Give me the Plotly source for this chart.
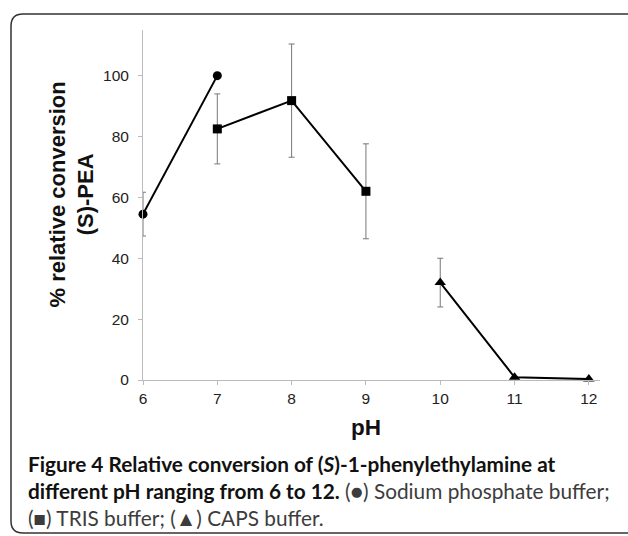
import plotly.graph_objects as go

# ---- data ----
ph_phosphate = [6, 7]
conv_phosphate = [54.5, 100.0]
err_phosphate = [7.2, 0.0]

ph_tris = [7, 8, 9]
conv_tris = [82.5, 91.8, 62.0]
err_tris = [11.5, 18.6, 15.6]

ph_caps = [10, 11, 12]
conv_caps = [32.0, 0.9, 0.3]
err_caps = [8.0, 0.0, 0.0]

x_ticks = [6, 7, 8, 9, 10, 11, 12]
y_ticks = [0, 20, 40, 60, 80, 100]

W, H = 628, 536
L, R, T, B = 143, 28, 30, 156
PW, PH = W - L - R, H - T - B

def px(x):
    return (x - L) / PW

def py(y):
    return (H - B - y) / PH

fig = go.Figure()

def add_series(x, y, e, symbol, size):
    fig.add_trace(go.Scatter(
        x=x, y=y, mode="lines+markers",
        line=dict(color="#000000", width=2),
        marker=dict(symbol=symbol, size=size, color="#000000"),
        error_y=dict(type="data", array=e, visible=True, color="#777777",
                     thickness=1, width=3),
        cliponaxis=False, showlegend=False))

add_series(ph_phosphate, conv_phosphate, err_phosphate, "circle", 9)
add_series(ph_tris, conv_tris, err_tris, "square", 9)
add_series(ph_caps, conv_caps, err_caps, "triangle-up", 10)

axis_font = dict(family="Liberation Sans, Arial", size=15.5, color="#222222")

fig.update_xaxes(range=[6, 12.15], tickvals=x_ticks, showgrid=False, zeroline=False,
                 showline=True, linecolor="#bbbbbb", linewidth=1,
                 ticks="outside", ticklen=4, tickcolor="#bbbbbb",
                 tickfont=axis_font)
fig.update_yaxes(range=[0, 115], tickvals=y_ticks, showgrid=False, zeroline=False,
                 showline=True, linecolor="#bbbbbb", linewidth=1,
                 ticks="outside", ticklen=4, tickcolor="#bbbbbb",
                 tickfont=axis_font, ticklabelstandoff=6)

# rounded border
r = 12
x0, y0, x1, y1 = 11, 14, 660, 533
path = (f"M {px(x0)} {py(y0 + r)} "
        f"Q {px(x0)} {py(y0)} {px(x0 + r)} {py(y0)} "
        f"L {px(x1)} {py(y0)} L {px(x1)} {py(y1)} "
        f"L {px(x0 + r)} {py(y1)} "
        f"Q {px(x0)} {py(y1)} {px(x0)} {py(y1 - r)} Z")
fig.add_shape(type="path", path=path, xref="paper", yref="paper",
              line=dict(color="#333333", width=1.5), layer="below")

annotations = [
    dict(text="<b>% relative conversion<br>(S)-PEA</b>", textangle=-90,
         x=px(71.5), y=py(195), xref="paper", yref="paper",
         xanchor="center", yanchor="middle", showarrow=False,
         font=dict(family="Liberation Sans, Arial", size=22, color="#111111")),
    dict(text="<b>pH</b>", x=9, y=py(427), xref="x", yref="paper",
         xanchor="center", yanchor="middle", showarrow=False,
         font=dict(family="Liberation Sans, Arial", size=22.5, color="#111111")),
    dict(text=("<b>Figure 4 Relative conversion of (<i>S</i>)-1-phenylethylamine at<br>"
               "different pH ranging from 6 to 12.</b>"
               "<span style='color:#3c3c3c'> (●) Sodium phosphate buffer;<br>"
               "(■) TRIS buffer; (▲) CAPS buffer.</span>"),
         x=px(26), y=py(490), xref="paper", yref="paper",
         xanchor="left", yanchor="middle", align="left", showarrow=False,
         font=dict(family="Lato", size=20.8, color="#111111")),
]

fig.update_layout(width=W, height=H, margin=dict(l=L, r=R, t=T, b=B),
                  paper_bgcolor="white", plot_bgcolor="white",
                  annotations=annotations)

fig.write_html("out.html", config={"displayModeBar": False},
               post_script="document.body.style.margin='0';document.body.style.padding='0';")
